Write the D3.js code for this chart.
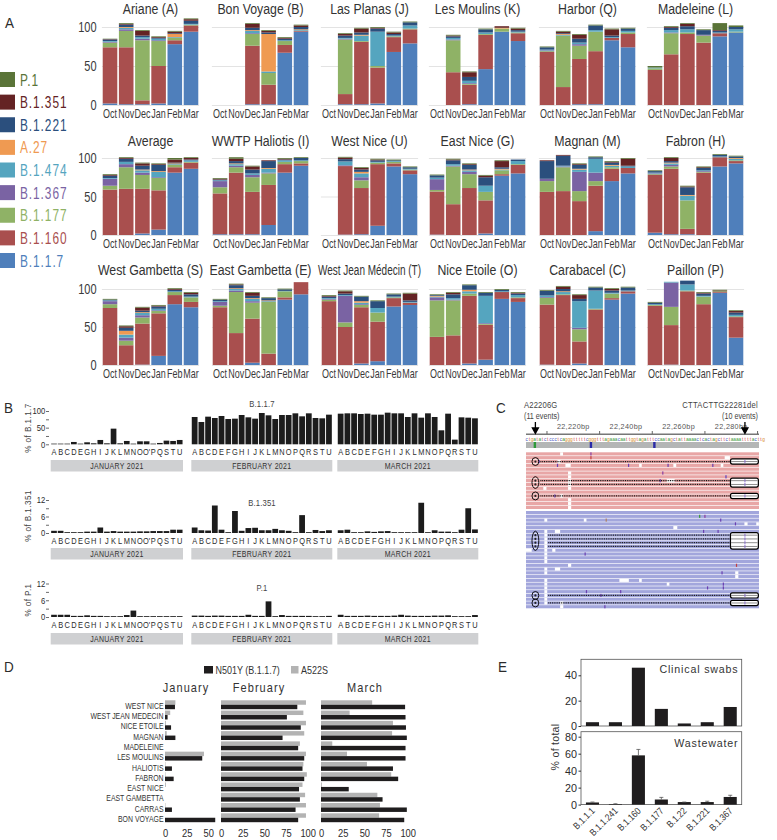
<!DOCTYPE html>
<html><head><meta charset="utf-8">
<script src="https://cdn.jsdelivr.net/npm/d3@7/dist/d3.min.js"></script>
<style>html,body{margin:0;padding:0;background:#fff}svg{display:block}text{font-family:"Liberation Sans",Arial,sans-serif}</style>
</head><body><svg id="c" width="777" height="840"></svg>
<script>
// ---------- Panel A data: each row is one month, columns follow `lineages`
const months = ["Oct","Nov","Dec","Jan","Feb","Mar"];
const lineages = ["B.1.1.7","B.1.160","B.1.177","B.1.367","B.1.474","A.27","B.1.221","B.1.351","P.1"];
const lineageColors = ["#4f7fbb","#a94f4e","#8fb266","#7a63a3","#55a5bf","#ef9a52","#2b4f7d","#642324","#5a7438"];
const none = [0,0,0,0,0,0,0,0,0];
const ariane   = [[2,72,6,1,1,0,2,.5,.5],[1,73,21,2,2,1,3,1,1],[1,5,77,2,2,0,2,6,1],[2,48,32,1,2,0,1,1,1],[78,5,3,0,1,4,1,2,1],[94,8,1,0,1,0,4,2,1]];
const bonVoyage= [none,none,[1,75,15,1,3,1,3,5,1],[1,25,15,0,2,48,2,2,1],[67,10,5,0,1,0,2,1,1],[94,1,0,0,1,1,3,2,1]];
const lasPlanas= [none,[1,13,70,1,1,0,3,2,1],[1,80,1,0,7,1,3,5,1],[2,46,2,0,44,0,4,1,1],[68,19,1,0,1,0,2,2,1],[79,18,1,0,4,0,4,0,1]];
const lesMoulins=[none,[0,42,41,1,2,0,2,1,1],[1,25,1,1,3,0,5,6,1],[46,44,1,0,2,0,4,0,1],[94,0,4,0,0,1,0,2,0],[82,10,1,0,1,0,2,2,1]];
const harbor   = [[0,68,1,1,1,0,3,0,1],[0,23,66,0,1,1,1,2,1],[1,58,17,2,2,0,5,5,1],[1,68,25,0,2,0,6,0,1],[83,3,0,0,1,0,2,8,1],[74,17,2,0,2,0,3,0,1]];
const madeleine= [[0,45,2,0,1,0,0,0,2],[0,65,27,1,3,0,3,1,1],[0,91,2,0,4,0,4,3,1],[0,80,9,1,0,0,6,0,1],[88,4,0,0,1,0,2,1,9],[93,0,1,0,3,0,3,0,2]];
const average  = [[0,59,5,9,1,0,3,1,1],[0,60,28,4,3,0,4,1,1],[2,58,18,3,3,1,5,3,1],[7,51,16,1,7,1,8,1,1],[81,7,3,0,1,1,1,4,2],[86,8,1,0,2,0,1,2,1]];
const haliotis = [[1,53,8,8,1,0,1,1,1],[1,80,7,2,2,1,3,3,2],[1,55,19,3,2,0,5,4,1],[13,52,15,1,5,1,9,1,0],[81,11,3,0,2,0,1,1,1],[90,3,3,0,1,0,3,0,1]];
const westNice = [none,[.5,89,0,1,5,0,3,2,1],[1,60,10,4,5,2,3,2,1],[12,80,2,0,1,0,2,1,1],[89,4,2,0,1,0,1,0,1],[79,5,1,0,1,0,2,0,1]];
const eastNice = [[.5,56,2,14,2,0,3,0,1],[0,40,49,1,2,0,5,1,1],[0,61,18,3,2,1,6,1,1],[2,43,11,0,8,0,11,2,1],[77,2,5,0,1,1,2,8,1],[80,11,1,0,4,0,2,0,0]];
const magnan   = [[0,56,14,3,0,0,23,1,0],[0,57,31,1,1,0,13,1,0],[0,44,13,25,3,1,5,1,1],[5,59,6,11,18,0,2,0,1],[70,16,2,0,2,1,3,1,1],[80,7,0,0,2,0,1,9,1]];
const fabron   = [[3,75,1,1,1,0,2,0,1],[1,85,3,2,2,1,2,4,1],[1,7,37,0,6,1,10,1,1],[0,81,1,1,1,0,3,1,1],[89,12,0,0,1,0,2,0,1],[93,3,1,0,2,1,2,0,1]];
const westGambetta=[[0,75,5,4,1,0,1,0,1],[0,26,6,4,4,5,4,2,1],[.5,54,8,3,3,1,2,4,1],[12,56,3,1,2,0,3,1,1],[80,12,4,0,1,0,2,1,1],[76,7,6,0,1,0,3,2,1]];
const eastGambetta=[[0,76,2,5,1,0,2,0,1],[0,42,54,2,2,1,4,1,1],[3,58,21,2,3,1,3,4,1],[0,15,68,0,1,1,3,0,1],[86,3,8,0,.5,0,2,0,1],[93,16,0,0,0,0,0,0,0]];
const westJean = [[0,84,2,1,1,0,2,1,1],[0,50,6,35,1,0,2,3,1],[2,74,3,1,2,2,6,0,1],[5,52,12,0,6,0,9,0,1],[77,11,1,0,1,0,3,0,1],[79,3,0,0,1,0,2,9,1]];
const niceEtoile=[[0,37,48,4,1,1,1,0,1],[0,39,46,1,2,0,5,2,1],[2,89,3,0,3,2,6,0,1],[7,46,1,1,36,0,4,0,1],[87,9,0,0,1,0,2,0,1],[83,5,1,0,3,0,2,1,1]];
const carabacel= [[.5,79,9,1,2,0,6,0,1],[0,92,1,0,3,1,3,3,1],[2,29,16,2,35,0,3,5,1],[0,73,1,0,24,0,4,0,1],[86,2,6,0,1,0,3,2,1],[94,3,0,0,1,0,4,0,1]];
const paillon  = [[0,78,1,0,1,0,2,0,1],[.5,52,24,32,1,0,0,0,0],[0,97,1,0,8,0,5,0,0],[0,80,10,0,1,0,3,1,1],[95,1,1,0,0,0,0,1,1],[36,27,1,0,2,0,3,2,1]];
const sites = [
 ["Ariane (A)",ariane],["Bon Voyage (B)",bonVoyage],["Las Planas (J)",lasPlanas],["Les Moulins (K)",lesMoulins],["Harbor (Q)",harbor],["Madeleine (L)",madeleine],
 ["Average",average],["WWTP Haliotis (I)",haliotis],["West Nice (U)",westNice],["East Nice (G)",eastNice],["Magnan (M)",magnan],["Fabron (H)",fabron],
 ["West Gambetta (S)",westGambetta],["East Gambetta (E)",eastGambetta],["West Jean Médecin (T)",westJean],["Nice Etoile (O)",niceEtoile],["Carabacel (C)",carabacel],["Paillon (P)",paillon]];

// ---------- Panel B data
const janLetters = ["A","B","C","D","E","G","H","I","J","K","L","M","N","O","O'","P","Q","S","T","U"];
const monthLetters = ["A","B","C","D","E","F","G","H","I","J","K","L","M","N","O","P","Q","R","S","T","U"];
const b117Jan = [2,2,2,7,2,6,3,13,3,47,3,10,2,9,9,2,4,11,10,13];
const b117Feb = [82,67,83,79,85,76,77,88,81,77,94,87,76,88,88,93,84,93,79,78,89];
const b117Mar = [92,93,93,91,92,89,89,95,93,93,82,93,80,93,82,42,92,14,81,80,78];
const b1351Jan = [.8,.8,.3,.3,.3,.5,.5,2,.5,.7,.5,.5,.5,.6,.6,.7,.7,.7,1.2,1.2];
const b1351Feb = [2,1,.9,10,1.2,.3,8,.8,1.8,1.9,1,1,1.5,1,.8,.3,6.5,.3,1.1,.7,1];
const b1351Mar = [1,1.2,.3,.3,.6,.4,.6,.7,.3,.3,.3,.3,11,.3,1,.5,.5,.3,1.2,9,1.3];
const p1Jan = [.8,.8,.8,.4,.4,.6,.4,.4,.3,.3,.3,.7,2.3,.3,.3,.3,.3,.3,.3,.3];
const p1Feb = [.5,.5,.4,.5,.5,.4,.4,.4,.8,.4,.4,5.6,.3,.7,.4,.4,.4,.4,.3,.3,.4];
const p1Mar = [.8,.4,.4,.4,.5,.4,.4,.4,.5,.8,.5,.4,.4,.4,.5,.5,.6,.3,.3,.3,.7];
const bPanels = [
 {name:"B.1.1.7",max:100,ticks:[0,25,50,75,100],shown:[0,50,100],y0:444.3,y1:411,jan:b117Jan,feb:b117Feb,mar:b117Mar,titleY:407,labelY:452,bandY:460,axisY:428,axisX:31},
 {name:"B.1.351",max:12,ticks:[0,3,6,9,12],shown:[0,6,12],y0:533,y1:500,jan:b1351Jan,feb:b1351Feb,mar:b1351Mar,titleY:506,labelY:541,bandY:548,axisY:516,axisX:31},
 {name:"P.1",max:12,ticks:[0,3,6,9,12],shown:[0,6,12],y0:617,y1:583.5,jan:p1Jan,feb:p1Feb,mar:p1Mar,titleY:591,labelY:625,bandY:633,axisY:600,axisX:31}];

// ---------- Panel C data (genome positions and read rows)
const seq = "ctgatatctccctcagggtttttcgggtttagaaacaattggtagatttccaatagctattaaaactcactagcttctaaaattttacttg";
const rulerTicks = [22210,22230,22250,22270,22290];
const rulerLabels = [22220,22240,22260,22280];
const refMarks = [[22205.4,"#2f9a3a"],[22226.7,"#2a2aa8"],[22250.8,"#2a2aa8"]];
const forwardDotted = [2,7,8,11];
const reverseDotted = [6,7,8,9,22,24];
const forwardGaps = [[0,22215,1.1],[1,22277.5,2],[2,22214,1.2],[3,22217,2],[3,22245,1],[3,22258,1.1],[3,22276,1],[5,22218,1.2],[6,22218,1.2],[7,22218,1.2],[7,22255.5,3],[8,22218,1.2],[9,22218,1.2],[9,22208.6,1.2],[11,22215,1.1],[12,22218,1.2],[13,22218,1.2],[14,22218,1.2]];
const reverseGaps = [[2,22209,1.1],[2,22224,1],[3,22285,1.2],[3,22289.5,1],[4,22258,1.5],[5,22213,2],[5,22209,1.1],[6,22209,1.1],[7,22209,1.1],[8,22209,1.1],[9,22209,1.1],[10,22202,2.2],[10,22212,1.2],[10,22209,1.1],[11,22209,1.1],[12,22209,1.1],[13,22209,1.1],[14,22218,1.2],[15,22213,2],[15,22209,1.1],[16,22209,1.1],[16,22281.5,1.2],[17,22281.5,1.2],[18,22237.5,3.6],[18,22245,1],[18,22209,1.1],[19,22255.5,1],[19,22209,1.1],[20,22209,1.1],[21,22209,1.1],[22,22209,1.1],[23,22209,1.1],[24,22209,1.1],[24,22215,1.2],[25,22215,1.2]];
const forwardMarks = [[0,22226.7,"#8a3fa0"],[1,22226.7,"#c04040"],[2,22207,"#5a3fc0"],[3,22214,"#6a3fb0"],[3,22241,"#6a3fb0"],[3,22256,"#6a3fb0"],[3,22273,"#6a3fb0"],[5,22254,"#8a3fa0"],[6,22278,"#5a3fc0"],[7,22253,"#6a3fb0"],[11,22213,"#6a3fb0"]];
const reverseMarks = [[1,22268,"#3a9a3a"],[1,22270,"#8a3fa0"],[2,22276,"#6a3fb0"],[2,22232.5,"#b08060"],[3,22281.6,"#6a3fb0"],[5,22269.5,"#6a3fb0"],[5,22275,"#6a3fb0"],[11,22224.5,"#6a3fb0"],[14,22282,"#c04040"],[16,22276.5,"#6a3fb0"],[19,22277,"#6a3fb0"],[20,22277,"#6a3fb0"],[20,22271,"#6a3fb0"],[21,22225,"#6a3fb0"],[21,22238,"#6a3fb0"],[22,22230.5,"#6a3fb0"],[25,22232,"#6a3fb0"]];

// ---------- Panel D data
const dSites = ["WEST NICE","WEST JEAN MEDECIN","NICE ETOILE","MAGNAN","MADELEINE","LES MOULINS","HALIOTIS","FABRON","EAST NICE","EAST GAMBETTA","CARRAS","BON VOYAGE"];
const a522sJan = [12,6,1,2,0,45,.5,.5,1,0,.5,0];
const n501yJan = [11.5,3,7,12,0,43,8,10,0,0,8,58];
const a522sFeb = [98,95,98,96,91,98,95,99,94,97,98,98];
const n501yFeb = [88,76,92,71,89,96,94,96,90,91,86,89];
const a522sMar = [59,33,83,82,13,30,53,81,1,65,68,67];
const n501yMar = [97,97.5,98,99,97.5,97.5,83,89,32,71,99,96];

// ---------- Panel E data
const eLineages = ["B.1.1.1","B.1.1.241","B.1.160","B.1.177","B.1.22","B.1.221","B.1.367"];
const clinical = [3,3,46,13.5,2,3,15];
const wastewater = [2.5,.7,58,6,3,3,9];
const wastewaterUpper = [3,1,65,8.5,3,4,11];

// ---------- helpers
const svg = d3.select("#c");
const INK = "#2b2b2b";
function txt(p,x,y,s,o={}){
  const t=p.append("text").text(s).attr("font-size",o.size||10).attr("fill",o.fill||INK)
    .attr("text-anchor",o.anchor||"start")
    .attr("transform",`translate(${x},${y})`+(o.rot?` rotate(${o.rot})`:"")+` scale(${o.sx||1},1)`);
  if(o.ls) t.attr("letter-spacing",o.ls);
  return t;
}
function styleAxis(g,size,sx,fill){
  g.select(".domain").remove();
  g.selectAll("text").attr("font-size",size).attr("fill",fill||INK).attr("font-family","Liberation Sans")
    .attr("transform",`scale(${sx},1)`);
}
[["A",5,28],["B",4,413],["C",496,413],["D",4,672],["E",498,672]].forEach(d=>txt(svg,d[1],d[2],d[0],{size:15,sx:.9}));

// ---------- Legend
const legY = d3.scalePoint().domain(lineages.slice().reverse()).range([72,253]);
lineages.forEach((l,i)=>{
  svg.append("rect").attr("x",0).attr("y",legY(l)).attr("width",15).attr("height",15).attr("fill",lineageColors[i]);
  txt(svg,20,legY(l)+13.5,l,{size:16.5,fill:lineageColors[i],ls:1.3,sx:.72});
});

// ---------- Panel A
const stack = d3.stack().keys(d3.range(lineages.length)).value((d,k)=>d[k]);
const colStart = [110,220,329,437,547,655];
const rowGeom = [{y0:105,y100:27,title:13.5},{y0:235,y100:158,title:146},{y0:365,y100:289,title:275}];
sites.forEach((site,i)=>{
  const col=i%6,row=Math.floor(i/6),geo=rowGeom[row];
  const g=svg.append("g");
  const x=d3.scaleBand().domain(months).range([colStart[col]-8.1,colStart[col]+81+8.1]).paddingInner(.1).paddingOuter(.05);
  const y=d3.scaleLinear().domain([0,100]).range([geo.y0,geo.y100]);
  const ya=g.append("g").attr("transform",`translate(${x.range()[0]},0)`)
    .call(d3.axisLeft(y).tickValues([0,50,100]).tickSizeInner(-(x.range()[1]-x.range()[0])).tickSizeOuter(0).tickPadding(7));
  styleAxis(ya,14.5,.76,"#3a3a3a");
  ya.selectAll("line").attr("stroke","#e3e3e3");
  if(col>0) ya.selectAll("text").remove();
  g.selectAll("g.s").data(stack(site[1])).join("g").attr("class","s").attr("fill",(d,k)=>lineageColors[k])
    .selectAll("rect").data(d=>d.map((v,m)=>({v,m}))).join("rect")
    .attr("x",d=>x(months[d.m])).attr("width",x.bandwidth())
    .attr("y",d=>y(d.v[1])).attr("height",d=>y(d.v[0])-y(d.v[1]));
  const xa=g.append("g").attr("transform",`translate(0,${geo.y0+3})`).call(d3.axisBottom(x).tickSize(0).tickPadding(1));
  styleAxis(xa,12.5,.72,"#3a3a3a");
  txt(g,colStart[col]+40.5,geo.title,site[0],{size:14.5,anchor:"middle",sx:site[0].length>20?.69:.85,fill:"#333"});
});

// ---------- Panel B
const bMonths = [
 {label:"JANUARY 2021",key:"jan",letters:janLetters,r:[50.7,183]},
 {label:"FEBRUARY 2021",key:"feb",letters:monthLetters,r:[191.3,332.3]},
 {label:"MARCH 2021",key:"mar",letters:monthLetters,r:[337.3,478.3]}];
bPanels.forEach(p=>{
  const g=svg.append("g");
  const y=d3.scaleLinear().domain([0,p.max]).range([p.y0,p.y1]);
  const ya=g.append("g").attr("transform","translate(49,0)")
    .call(d3.axisLeft(y).tickValues(p.ticks).tickSize(3).tickPadding(1.5).tickFormat(d=>p.shown.includes(d)?d:""));
  styleAxis(ya,9,.85);
  ya.selectAll("line").attr("stroke",INK).attr("stroke-width",.7);
  txt(g,p.axisX,p.axisY,"% of "+p.name,{size:9,anchor:"middle",rot:-90,sx:.9,ls:.5,fill:"#444"});
  txt(g,262,p.titleY,p.name,{size:9,anchor:"middle",sx:.85,ls:.2,fill:"#444"});
  bMonths.forEach(m=>{
    const x=d3.scaleBand().domain(m.letters.map((l,i)=>i)).range(m.r).paddingInner(.14).paddingOuter(.07);
    g.append("g").selectAll("rect").data(p[m.key]).join("rect").attr("fill","#1c1c1c")
      .attr("x",(d,i)=>x(i)).attr("width",x.bandwidth()).attr("y",d=>y(d)).attr("height",d=>p.y0-y(d));
    g.append("g").selectAll("text").data(m.letters).join("text").text(d=>d).attr("font-size",9.3).attr("fill",INK)
      .attr("text-anchor","middle").attr("transform",(d,i)=>`translate(${x(i)+x.bandwidth()/2},${p.labelY+3.3}) scale(.8,1)`);
    g.append("rect").attr("x",m.r[0]).attr("width",m.r[1]-m.r[0]).attr("y",p.bandY).attr("height",11.5).attr("fill","#cfd0d2");
    txt(g,(m.r[0]+m.r[1])/2,p.bandY+9.2,m.label,{size:9.2,anchor:"middle",sx:.76,ls:.4,fill:"#333"});
  });
});

// ---------- Panel C
const gc=svg.append("g");
const bp=d3.scaleLinear().domain([22220,22260]).range([573.3,678.6]);
const bpW=bp(1)-bp(0);
const fmt=d3.format(",");
gc.append("line").attr("x1",526).attr("x2",759).attr("y1",434.3).attr("y2",434.3).attr("stroke","#777").attr("stroke-width",1.6);
gc.selectAll("line.t").data(rulerTicks).join("line").attr("class","t").attr("x1",d=>bp(d)).attr("x2",d=>bp(d)).attr("y1",431).attr("y2",434).attr("stroke","#666");
rulerLabels.forEach(d=>txt(gc,bp(d),428.5,fmt(d)+"bp",{size:7.6,anchor:"middle",ls:.35,sx:.95,fill:"#555"}));
txt(gc,524,408,"A22206G",{size:9,ls:.2,sx:.85,fill:"#444"});
txt(gc,524,419,"(11 events)",{size:9,sx:.8,fill:"#444"});
txt(gc,758,408,"CTTACTTG22281del",{size:9,anchor:"end",ls:.3,sx:.85,fill:"#444"});
txt(gc,758,419,"(10 events)",{size:9,anchor:"end",sx:.8,fill:"#444"});
[22205.6,22285.2].forEach(d=>{
  gc.append("path").attr("transform",`translate(${bp(d)},0)`).attr("d","M0,422V430M-3,428L0,433.5L3,428Z").attr("stroke","#000").attr("stroke-width",1.3).attr("fill","#000");
});
const baseColor={a:"#3f9e3f",c:"#3f55c4",g:"#d9902c",t:"#cf4b4b"};
gc.selectAll("text.b").data(seq.split("")).join("text").attr("class","b").text(d=>d)
  .attr("font-size",4.8).attr("text-anchor","middle").attr("fill",d=>baseColor[d])
  .attr("x",(d,i)=>bp(22202.3+i)).attr("y",440.5);
gc.append("rect").attr("x",526).attr("width",233).attr("y",442).attr("height",6).attr("fill","#b4b6b6");
gc.selectAll("rect.m").data(refMarks).join("rect").attr("class","m").attr("x",d=>bp(d[0])-1.2).attr("width",2.4).attr("y",442).attr("height",6).attr("fill",d=>d[1]);
function readBlock(n,top,bottom,fill,dotted,gaps,marks,dotStart,groups){
  const y=d3.scaleBand().domain(d3.range(n)).range([top,bottom]).paddingInner(.17);
  const g=gc.append("g");
  g.selectAll("rect.r").data(d3.range(n)).join("rect").attr("class","r").attr("x",526).attr("width",233)
    .attr("y",d=>y(d)).attr("height",y.bandwidth()).attr("fill",fill);
  g.selectAll("rect.g").data(gaps).join("rect").attr("class","g").attr("x",d=>bp(d[1])).attr("width",d=>d[2]*bpW)
    .attr("y",d=>y(d[0])).attr("height",y.bandwidth()).attr("fill","#fff");
  g.selectAll("rect.k").data(marks).join("rect").attr("class","k").attr("x",d=>bp(d[1])-.6).attr("width",1.2)
    .attr("y",d=>y(d[0])).attr("height",y.bandwidth()).attr("fill",d=>d[2]);
  g.selectAll("line.d").data(dotted).join("line").attr("class","d").attr("x1",bp(dotStart)).attr("x2",bp(22279.5))
    .attr("y1",d=>y(d)+y.bandwidth()/2).attr("y2",d=>y(d)+y.bandwidth()/2)
    .attr("stroke","#111").attr("stroke-width",1.3).attr("stroke-dasharray","1 .8");
  groups.forEach(gr=>{
    const t=y(gr[0])-1,b=y(gr[1])+y.bandwidth()+1;
    g.append("rect").attr("x",bp(22279.7)).attr("width",bp(22290.3)-bp(22279.7)).attr("y",t).attr("height",b-t)
      .attr("rx",2).attr("fill","#fff").attr("stroke","#000").attr("stroke-width",1.2);
    d3.range(gr[0],gr[1]+1).filter(r=>dotted.includes(r)).forEach(r=>{
      g.append("line").attr("x1",bp(22279.9)).attr("x2",bp(22290.1)).attr("y1",y(r)+y.bandwidth()/2).attr("y2",y(r)+y.bandwidth()/2).attr("stroke","#8f8f8f").attr("stroke-width",1);
      g.append("rect").attr("x",bp(22285.2)-.5).attr("width",1).attr("y",y(r)).attr("height",y.bandwidth()).attr("fill","#8a6fd0");
      g.append("circle").attr("cx",bp(22205.6)).attr("cy",y(r)+y.bandwidth()/2).attr("r",1.1).attr("fill","#222");
    });
    g.append("ellipse").attr("cx",bp(22205.6)).attr("cy",(t+b)/2).attr("rx",3.4).attr("ry",Math.max(3.4,(b-t)/2+1.4)).attr("fill","none").attr("stroke","#000").attr("stroke-width",.9);
  });
}
readBlock(15,452.3,509,"#e8a6a6",forwardDotted,forwardGaps,forwardMarks,22207.5,[[2,2],[7,8],[11,11]]);
readBlock(26,511,608.3,"#a2a6dc",reverseDotted,reverseGaps,reverseMarks,22210.5,[[6,9],[22,22],[24,24]]);

// ---------- Panel D
const gd=svg.append("g");
const yd=d3.scaleBand().domain(dSites).range([700.3,822.2]).paddingInner(.133);
const dPanels=[
 {title:"January",cx:186,grey:a522sJan,black:n501yJan,dom:[0,50],r:[165,208.3],ticks:[0,25,50]},
 {title:"February",cx:259,grey:a522sFeb,black:n501yFeb,dom:[0,100],r:[221,307.7],ticks:[0,25,50,75,100]},
 {title:"March",cx:365,grey:a522sMar,black:n501yMar,dom:[0,100],r:[321,407.7],ticks:[0,25,50,75,100]}];
dPanels.forEach(p=>{
  const x=d3.scaleLinear().domain(p.dom).range(p.r);
  gd.append("g").selectAll("rect").data(dSites).join("rect").attr("fill","#b3b3b3")
    .attr("x",p.r[0]).attr("y",d=>yd(d)).attr("height",yd.bandwidth()/2).attr("width",(d,i)=>x(p.grey[i])-p.r[0]);
  gd.append("g").selectAll("rect").data(dSites).join("rect").attr("fill","#1f1d1e")
    .attr("x",p.r[0]).attr("y",d=>yd(d)+yd.bandwidth()/2).attr("height",yd.bandwidth()/2).attr("width",(d,i)=>x(p.black[i])-p.r[0]);
  const xa=gd.append("g").attr("transform","translate(0,823)").call(d3.axisBottom(x).tickValues(p.ticks).tickSize(0).tickPadding(6.5));
  styleAxis(xa,11,.85);
  txt(gd,p.cx,692,p.title,{size:12.5,anchor:"middle",ls:1.2,sx:.88,fill:"#333"});
});
dSites.forEach(s=>txt(gd,163.5,yd(s)+yd.bandwidth()/2+4.2,s,{size:9.6,anchor:"end",sx:.72,fill:"#333"}));
gd.append("rect").attr("x",204).attr("y",666).attr("width",9).attr("height",7.5).attr("fill","#1f1d1e");
txt(gd,215.5,673.5,"N501Y (B.1.1.7)",{size:10,sx:.9,fill:"#333"});
gd.append("rect").attr("x",291).attr("y",666).attr("width",7.5).attr("height",7.5).attr("fill","#b3b3b3");
txt(gd,301,673.5,"A522S",{size:10,sx:.9,fill:"#333"});

// ---------- Panel E
const ge=svg.append("g");
const xe=d3.scaleBand().domain(eLineages).range([581,741.7]).paddingInner(.43).paddingOuter(.215);
function eFrame(top,bottom,values,y,ticks,title,titleY){
  ge.append("rect").attr("x",581).attr("y",top).attr("width",160.7).attr("height",bottom-top).attr("fill","none").attr("stroke","#555").attr("stroke-width",.8);
  ge.append("g").selectAll("rect").data(eLineages).join("rect").attr("fill","#1f1d1e")
    .attr("x",d=>xe(d)).attr("width",xe.bandwidth()).attr("y",(d,i)=>y(values[i])).attr("height",(d,i)=>y(0)-y(values[i]));
  const a=ge.append("g").attr("transform","translate(581,0)").call(d3.axisLeft(y).tickValues(ticks).tickSize(2.5).tickPadding(1.5));
  styleAxis(a,11,.98);
  a.selectAll("line").attr("stroke","#333");
  txt(ge,738.5,titleY,title,{size:11,anchor:"end",ls:.85,sx:.97,fill:"#333"});
}
const yClin=d3.scaleLinear().domain([0,40]).range([726,675.3]);
const yWaste=d3.scaleLinear().domain([0,80]).range([804.6,736.7]);
eFrame(659.3,726,clinical,yClin,[0,20,40],"Clinical swabs",673);
eFrame(731.7,804.6,wastewater,yWaste,[0,20,40,60,80],"Wastewater",747);
ge.append("g").selectAll("path").data(eLineages).join("path").attr("fill","none").attr("stroke","#555").attr("stroke-width",.8)
  .attr("d",(d,i)=>{const c=xe(d)+xe.bandwidth()/2;return `M${c},${yWaste(wastewater[i])}V${yWaste(wastewaterUpper[i])}M${c-2},${yWaste(wastewaterUpper[i])}H${c+2}`;});
txt(ge,558.5,747,"% of total",{size:11.5,anchor:"middle",rot:-90,sx:.92,ls:.3,fill:"#333"});
eLineages.forEach(l=>txt(ge,xe(l)+xe.bandwidth()/2+3,811.5,l,{size:9.6,anchor:"end",rot:-45,sx:.86,fill:"#333"}));
</script></body></html>
